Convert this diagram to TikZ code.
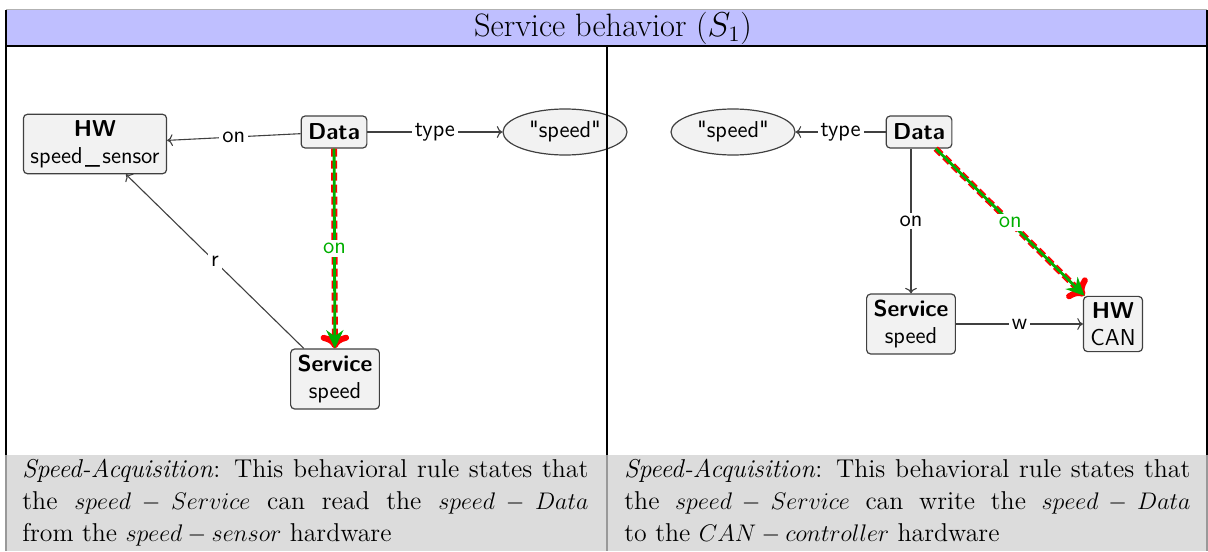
\documentclass[tikz,border=0pt]{standalone}
\usepackage{amsmath}
\usepackage{xcolor}
\definecolor{hdrblue}{RGB}{191,191,255}
\definecolor{capgray}{RGB}{220,220,220}
\definecolor{hlgreen}{RGB}{0,175,0}
\definecolor{hlred}{RGB}{255,0,0}
\usetikzlibrary{positioning,arrows.meta,shapes.geometric}
\tikzset{
  elem/.style   ={rectangle,rounded corners=2pt,draw=black!75,fill=black!5,line width=0.6pt,
                  align=center,inner xsep=3.5pt,inner ysep=3pt,font=\fontsize{11.5}{13.5}\selectfont\sffamily},
  lit/.style    ={ellipse,draw=black!75,fill=black!5,line width=0.6pt,minimum width=62pt,
                  minimum height=23pt,inner sep=0pt,font=\fontsize{11.5}{13.5}\selectfont\sffamily},
  rel/.style    ={-{To},line width=0.55pt,draw=black!75},
  lbl/.style    ={fill=white,inner sep=1.5pt,font=\fontsize{11.5}{13.5}\selectfont\sffamily},
  hlback/.style ={-{To[length=2.4mm,width=5mm]},line width=3pt,draw=hlred,dash pattern=on 4pt off 2pt},
  hlfront/.style={-{Stealth[length=3.2mm,width=3mm]},line width=1.4pt,draw=hlgreen},
  caption/.style={anchor=north west,text width=283pt,align=justify,inner xsep=0pt,inner ysep=2pt,
                  font=\fontsize{12.9}{15.8}\selectfont},
}
\newcommand{\qspeed}{\textquotedbl speed\textquotedbl}
\begin{document}
\begin{tikzpicture}[x=0.5pt,y=-0.5pt]
  \useasboundingbox (0,0) rectangle (1208,551);
  % frame, title and caption band
  \fill[hdrblue] (6,10) rectangle (1207,46);
  \fill[capgray] (6,455) rectangle (1207,551);
  \draw[black!30,line width=0.5pt] (6,10) -- (1207,10);
  \node[font=\fontsize{16.2}{19}\selectfont] (title) at (613,28) {Service behavior ($S_1$)};

  % left: reading the sensor
  \node[elem] (sensor) at (95,144) {\textbf{HW}\\speed\kern1.2pt\_\kern1.2pt sensor};
  \node[elem,minimum height=16pt] (data) at (334,132) {\textbf{Data}};
  \node[lit] (lit) at (565,132) {\qspeed};
  \node[elem] (srv) at (335,379) {\textbf{Service}\\speed};
  \draw[rel] (data) -- node[lbl]{on} (sensor);
  \draw[rel] (data) -- node[lbl]{type} (lit);
  \draw[rel] (srv) -- node[lbl]{r} (sensor);
  \draw[hlback] (data) -- (srv);
  \draw[hlfront] (data) -- node[lbl,text=hlgreen]{on} (srv);

  % right: writing to the CAN bus
  \node[lit] (lit2) at (733,132) {\qspeed};
  \node[elem,minimum height=16pt] (data2) at (919,132) {\textbf{Data}};
  \node[elem] (srv2) at (911,324) {\textbf{Service}\\speed};
  \node[elem] (can) at (1113,324) {\textbf{HW}\\CAN};
  \draw[rel] (data2) -- node[lbl]{type} (lit2);
  \draw[rel] (data2.south -| srv2.north) -- node[lbl]{on} (srv2.north);
  \draw[rel] (srv2) -- node[lbl]{w} (can);
  \draw[hlback] (data2) -- (can);
  \draw[hlfront] (data2) -- node[lbl,text=hlgreen]{on} (can);

  % grid lines
  \draw[line width=0.6pt] (6,10) -- (6,455) (1207,10) -- (1207,455) (6,46) -- (1207,46) (607,46) -- (607,455);
  \draw[black!40,line width=0.6pt] (6,455) -- (6,551) (607,455) -- (607,551) (1207,455) -- (1207,551);

  % captions
  \node[caption] (capL) at (22,455) {\textit{Speed-Acquisition}: This behavioral rule states that\linebreak
    the $speed-Service$ can read the $speed-Data$\linebreak from the $speed-sensor$ hardware};
  \node[caption] (capR) at (624,455) {\textit{Speed-Acquisition}: This behavioral rule states that\linebreak
    the $speed-Service$ can write the $speed-Data$\linebreak to the $CAN-controller$ hardware};
\end{tikzpicture}
\end{document}
